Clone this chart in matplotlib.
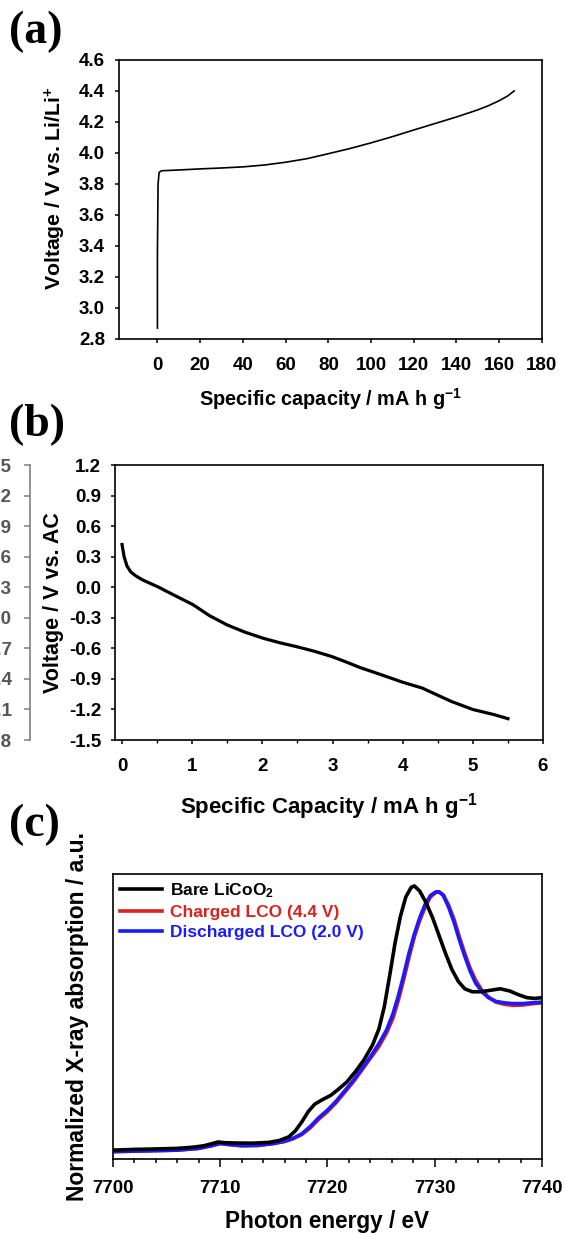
import numpy as np
import matplotlib
matplotlib.use("Agg")
import matplotlib.pyplot as plt
from matplotlib.ticker import MultipleLocator

plt.rcParams['font.family'] = ['Liberation Sans', 'DejaVu Sans']
plt.rcParams['font.weight'] = 'bold'
plt.rcParams['mathtext.fontset'] = 'custom'
plt.rcParams['mathtext.rm'] = 'Liberation Sans:bold'
plt.rcParams['mathtext.it'] = 'Liberation Sans:bold:italic'
plt.rcParams['mathtext.bf'] = 'Liberation Sans:bold'
plt.rcParams['mathtext.default'] = 'rm'

# (a) charge curve, Li half cell
cap_a = [0, 0, 0.3, 0.8, 2, 10, 20, 30, 40, 50, 60, 70, 80, 90, 100,
         110, 120, 130, 140, 150, 155, 160, 164, 167]
volt_a = [2.87, 3.35, 3.80, 3.875, 3.885, 3.89, 3.897, 3.903, 3.91, 3.922,
          3.94, 3.963, 3.995, 4.028, 4.065, 4.105, 4.148, 4.19, 4.232,
          4.278, 4.305, 4.337, 4.368, 4.40]

# (b) discharge curve vs AC
cap_b = [0.0, 0.03, 0.07, 0.125, 0.2, 0.3, 0.51, 0.75, 1.01, 1.25, 1.5,
         1.75, 2.01, 2.25, 2.5, 2.75, 2.99, 3.2, 3.4, 3.7, 3.99, 4.28,
         4.5, 4.69, 5.0, 5.3, 5.5]
volt_b = [0.42, 0.30, 0.21, 0.15, 0.11, 0.07, 0.005, -0.08, -0.17, -0.28,
          -0.37, -0.44, -0.50, -0.545, -0.585, -0.63, -0.68, -0.735, -0.79,
          -0.86, -0.93, -0.99, -1.06, -1.12, -1.20, -1.25, -1.29]
right_ticks_b = ['4.5', '4.2', '3.9', '3.6', '3.3', '3.0', '2.7', '2.4', '2.1', '1.8']

# (c) Co K-edge XANES
e_bare = [7700, 7702, 7704, 7706, 7707.5, 7708.5, 7709.3, 7709.8, 7710.5,
          7711.5, 7713, 7714.5, 7715.5, 7716.4, 7717.0, 7717.6, 7718.2,
          7718.8, 7719.5, 7720.3, 7721.0, 7721.8, 7722.6, 7723.4, 7724.2,
          7724.8, 7725.3, 7725.8, 7726.3, 7726.8, 7727.3, 7727.8, 7728.1,
          7728.6, 7729.2, 7729.8, 7730.4, 7731.0, 7731.6, 7732.2, 7732.8,
          7733.5, 7734.3, 7735.2, 7736.1, 7737.0, 7737.8, 7738.6, 7739.3, 7740]
mu_bare = [0.0, 0.005, 0.008, 0.012, 0.02, 0.03, 0.045, 0.055, 0.05,
           0.048, 0.047, 0.052, 0.065, 0.09, 0.13, 0.19, 0.26,
           0.31, 0.34, 0.37, 0.41, 0.46, 0.53, 0.61, 0.71,
           0.82, 0.97, 1.18, 1.40, 1.58, 1.71, 1.775, 1.785,
           1.75, 1.67, 1.57, 1.45, 1.33, 1.22, 1.14, 1.09,
           1.07, 1.07, 1.08, 1.09, 1.075, 1.05, 1.03, 1.025, 1.03]
e_lco = [7700, 7703, 7706, 7708, 7709.2, 7710.0, 7710.8, 7712, 7713.5,
         7715, 7716, 7716.8, 7717.6, 7718.4, 7719.2, 7720.0, 7720.8,
         7721.6, 7722.4, 7723.2, 7724.0, 7724.8, 7725.5, 7726.1, 7726.6,
         7727.1, 7727.6, 7728.1, 7728.6, 7729.1, 7729.6, 7730.1, 7730.4,
         7730.8, 7731.3, 7731.8, 7732.3, 7732.8, 7733.3, 7733.8, 7734.4,
         7735.0, 7735.7, 7736.5, 7737.3, 7738.2, 7739.0, 7740]
mu_dis = [-0.01, -0.005, 0.0, 0.012, 0.03, 0.045, 0.038, 0.03, 0.032,
          0.045, 0.06, 0.08, 0.11, 0.16, 0.22, 0.27, 0.33,
          0.40, 0.47, 0.55, 0.63, 0.72, 0.81, 0.92, 1.04,
          1.18, 1.33, 1.46, 1.57, 1.66, 1.72, 1.745, 1.745,
          1.72, 1.64, 1.54, 1.42, 1.31, 1.21, 1.13, 1.07,
          1.03, 1.005, 0.995, 0.99, 0.99, 0.995, 1.0]
mu_chg = [-0.01, -0.005, 0.0, 0.012, 0.03, 0.045, 0.038, 0.03, 0.032,
          0.045, 0.058, 0.077, 0.105, 0.15, 0.21, 0.26, 0.32,
          0.39, 0.46, 0.54, 0.62, 0.70, 0.79, 0.89, 1.01,
          1.15, 1.30, 1.44, 1.55, 1.64, 1.71, 1.74, 1.745,
          1.725, 1.655, 1.56, 1.44, 1.33, 1.23, 1.15, 1.08,
          1.035, 1.0, 0.985, 0.978, 0.98, 0.988, 0.995]

fig = plt.figure(figsize=(5.66, 12.33), dpi=100)


def style_axes(ax, size=13.5):
    for s in ax.spines.values():
        s.set_linewidth(1.2)
    ax.tick_params(direction='out', width=1.1, length=3, labelsize=size)
    for lab in ax.get_xticklabels() + ax.get_yticklabels():
        lab.set_fontweight('bold')


# ---- panel (a)
ax1 = fig.add_axes([0.2102, 0.7251, 0.7473, 0.2263])
ax1.plot(cap_a, volt_a, color='black', lw=1.2)
ax1.set_xlim(-18, 180)
ax1.set_ylim(2.8, 4.6)
ax1.set_xticks(np.arange(0, 181, 20))
ax1.set_yticks(np.arange(2.8, 4.61, 0.2))
ax1.yaxis.set_major_formatter(plt.FormatStrFormatter('%.1f'))
style_axes(ax1)
ax1.tick_params(axis='x', pad=10)
ax1.tick_params(axis='y', pad=7)
ax1.set_xlabel('Specific capacity / mA h g$^{-1}$', fontsize=14.3, fontweight='bold')
ax1.set_ylabel('Voltage / V vs. Li/Li$^{+}$', fontsize=15.3, fontweight='bold')
ax1.xaxis.set_label_coords(0.5, -0.17)
ax1.yaxis.set_label_coords(-0.12, 0.54)

# ---- panel (b)
ax2 = fig.add_axes([0.2032, 0.3998, 0.7562, 0.2230])
ax2.plot(cap_b, volt_b, color='black', lw=2.3)
ax2.set_xlim(-0.1, 6)
ax2.set_ylim(-1.5, 1.2)
ax2.set_xticks(np.arange(0, 7, 1))
ax2.xaxis.set_minor_locator(MultipleLocator(0.5))
ax2.set_yticks(np.arange(-1.5, 1.21, 0.3))
ax2.yaxis.set_major_formatter(plt.FormatStrFormatter('%.1f'))
style_axes(ax2)
ax2.tick_params(axis='x', which='minor', direction='out', length=2, width=1.0)
ax2.tick_params(axis='x', pad=10)
ax2.tick_params(axis='y', pad=7)
ax2.set_xlabel('Specific Capacity / mA h g$^{-1}$', fontsize=16, fontweight='bold')
ax2.set_ylabel('Voltage / V vs. AC', fontsize=15.5, fontweight='bold')
ax2.xaxis.set_label_coords(0.5, -0.185)
ax2.yaxis.set_label_coords(-0.12, 0.5)

# grey axis of the cut-off neighbouring panel
axg = fig.add_axes([0.053, 0.3998, 0.01, 0.2230])
axg.set_ylim(-1.5, 1.2)
axg.set_yticks(np.arange(1.2, -1.51, -0.3))
axg.set_yticklabels(right_ticks_b)
axg.set_xticks([])
for k in ['top', 'right', 'bottom']:
    axg.spines[k].set_visible(False)
axg.spines['left'].set_color('#808080')
axg.spines['left'].set_linewidth(1.2)
axg.patch.set_visible(False)
axg.tick_params(axis='y', colors='#808080', labelcolor='#555555', length=4,
                width=1.1, labelsize=13.5, pad=9)
for lab in axg.get_yticklabels():
    lab.set_fontweight('bold')

# ---- panel (c)
ax3 = fig.add_axes([0.1996, 0.0600, 0.758, 0.2311])
l_red, = ax3.plot(e_lco, mu_chg, color='#e0201b', lw=2.6)
l_blue, = ax3.plot(e_lco, mu_dis, color='#1a1aff', lw=2.6)
l_black, = ax3.plot(e_bare, mu_bare, color='black', lw=2.6)
ax3.set_xlim(7700, 7740)
ax3.set_ylim(-0.06, 1.865)
ax3.set_xticks(np.arange(7700, 7741, 10))
ax3.xaxis.set_minor_locator(MultipleLocator(2))
ax3.set_yticks([])
style_axes(ax3)
ax3.tick_params(axis='x', which='major', length=6, labelsize=13.5, pad=9)
ax3.tick_params(axis='x', which='minor', length=3, width=1.1)
for lab in ax3.get_xticklabels():
    lab.set_fontweight('bold')
ax3.set_xlabel('Photon energy / eV', fontsize=16.3, fontweight='bold')
ax3.set_ylabel('Normalized X-ray absorption / a.u.', fontsize=16.5, fontweight='bold')
ax3.xaxis.set_label_coords(0.5, -0.18)
ax3.yaxis.set_label_coords(-0.055, 0.5)
leg = ax3.legend([l_black, l_red, l_blue],
                 ['Bare LiCoO$_2$', 'Charged LCO (4.4 V)', 'Discharged LCO (2.0 V)'],
                 loc='upper left', frameon=False, handlelength=2.4,
                 handletextpad=0.5, labelspacing=0.3, borderpad=0.3,
                 borderaxespad=0.1, prop={'weight': 'bold', 'size': 12.5})
for txt, c in zip(leg.get_texts(), ['black', '#e0201b', '#1a1aff']):
    txt.set_color(c)

# panel letters
for y, s in [(0.974, '(a)'), (0.655, '(b)'), (0.331, '(c)')]:
    fig.text(0.016, y, s, fontsize=33, fontweight='bold', va='center',
             family=['Liberation Serif', 'DejaVu Serif'])

fig.savefig('out.png', dpi=100)
